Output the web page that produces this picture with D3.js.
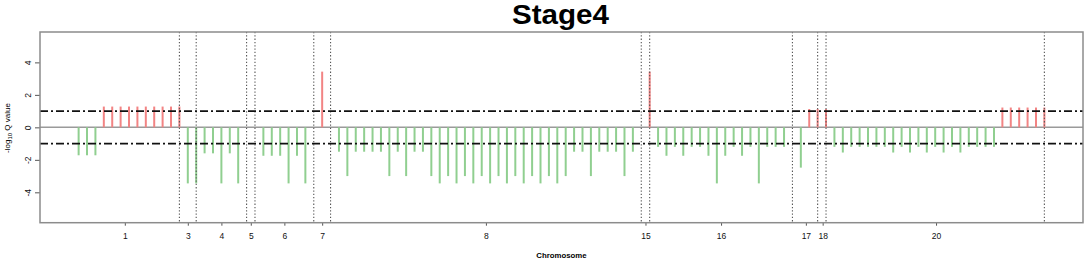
<!DOCTYPE html>
<html>
<head>
<meta charset="utf-8">
<script src="https://cdn.jsdelivr.net/npm/d3@7"></script>
<style>
  body { margin: 0; background: #fff; }
  svg { display: block; font-family: "Liberation Sans", Arial, sans-serif; }
</style>
</head>
<body>
<svg></svg>
<script>
// Canvas size
const width = 1084, height = 260;
const svg = d3.select("svg").attr("width", width).attr("height", height);

// -log10 Q value per marker, in genome order (positive = red, negative = green)
const qValues = [
    -1.72, -1.72, -1.72,
    1.28, 1.28, 1.28, 1.28, 1.28, 1.28, 1.28, 1.28, 1.28, 1.28,
    -3.45, -3.45, -1.6, -1.6, -3.45, -1.6, -3.45, 0, 0,
    -1.75, -1.75, -1.75, -3.45, -1.75, -3.45, 0, 3.43, 0,
    -1.5, -3.0, -1.5, -1.5, -1.5, -1.5, -3.0, -1.5, -3.0, -1.5, -1.5,
    -3.0, -3.45, -3.0, -3.45, -3.0, -3.45, -3.0, -3.45, -3.0, -3.45, -3.0,
    -3.45, -3.0, -3.45, -3.0, -3.45, -3.0,
    -1.5, -1.5, -3.0, -1.5, -1.5, -1.5, -3.0, -1.5, 0, 3.43,
    -1.2, -1.75, -1.2, -1.75, -1.2, -1.2, -1.75, -3.45, -1.75, -1.2, -1.75, -1.2, -3.45,
    -1.2, -1.2, -1.2, 0, -2.48, 1.13, 1.13, 1.13,
    -1.2, -1.55, -1.2, -1.2, -1.2, -1.2, -1.2, -1.55, -1.2, -1.55, -1.2, -1.55,
    -1.2, -1.55, -1.2, -1.55, -1.2, -1.2, -1.2, -1.2,
    1.22, 1.22, 1.22, 1.22, 1.22, 1.22
];

// Chromosome labels and their positions (marker index units)
const chromLabels = ["1", "3", "4", "5", "6", "7", "8", "15", "16", "17", "18", "20"];
const chromPos = [5.5, 13, 17, 20.5, 24.5, 29, 48.5, 67.5, 76.5, 86.6, 88.6, 102.1];

// Marker indices with vertical dotted guide lines
const guideIdx = [12, 14, 20, 21, 28, 30, 67, 68, 85, 88, 89, 115];

// Significance threshold and y ticks
const threshold = 1;
const yTicks = [-4, -2, 0, 2, 4];

// Plot region
const plotLeft = 40, plotRight = 1083, plotTop = 32, plotBottom = 222.7;

const x = d3.scaleLinear().domain([-4.6, qValues.length - 1 + 4.6]).range([plotLeft, plotRight]);
const y = d3.scaleLinear().domain([-5.87, 5.87]).range([plotBottom, plotTop]);

// Title
svg.append("text")
    .attr("x", 560.5).attr("y", 24)
    .attr("text-anchor", "middle")
    .attr("font-size", 28).attr("font-weight", "bold")
    .attr("textLength", 97).attr("lengthAdjust", "spacingAndGlyphs")
    .text("Stage4");

// Zero line
svg.append("line")
    .attr("x1", plotLeft).attr("x2", plotRight)
    .attr("y1", y(0)).attr("y2", y(0))
    .attr("stroke", "#9a9a9a").attr("stroke-width", 1.5);

// Bars (type = "h")
svg.selectAll("line.bar")
    .data(qValues)
    .enter().append("line")
    .attr("class", "bar")
    .attr("x1", (d, i) => x(i)).attr("x2", (d, i) => x(i))
    .attr("y1", y(0)).attr("y2", d => y(d))
    .attr("stroke", d => d > 0 ? "#f28484" : "#90cf90")
    .attr("stroke-width", 2);

// Dotted guide lines
svg.selectAll("line.guide")
    .data(guideIdx)
    .enter().append("line")
    .attr("class", "guide")
    .attr("x1", d => x(d)).attr("x2", d => x(d))
    .attr("y1", plotTop).attr("y2", plotBottom)
    .attr("stroke", "#555").attr("stroke-width", 1.1)
    .attr("stroke-dasharray", "1.3,2");

// Threshold lines (dot-dash)
svg.selectAll("line.thr")
    .data([threshold, -threshold])
    .enter().append("line")
    .attr("class", "thr")
    .attr("x1", plotLeft).attr("x2", plotRight)
    .attr("y1", d => y(d)).attr("y2", d => y(d))
    .attr("stroke", "#111").attr("stroke-width", 1.6)
    .attr("stroke-dasharray", "8,3,2,3");

// Y axis
const yAxis = svg.append("g")
    .attr("transform", `translate(${plotLeft},0)`)
    .call(d3.axisLeft(y).tickValues(yTicks).tickSize(5).tickFormat(d => String(d)));
yAxis.select(".domain").remove();
yAxis.selectAll("line").attr("stroke", "#555");
yAxis.selectAll("text")
    .attr("x", null).attr("dy", null)
    .attr("text-anchor", "middle")
    .attr("transform", "translate(-9.5,0) rotate(-90)")
    .attr("font-size", 8.5).attr("fill", "#111");

// X axis
const xAxis = svg.append("g")
    .attr("transform", `translate(0,${plotBottom})`)
    .call(d3.axisBottom(x).tickValues(chromPos).tickSize(3).tickFormat((d, i) => chromLabels[i]));
xAxis.select(".domain").remove();
xAxis.selectAll("line").attr("stroke", "#555");
xAxis.selectAll("text")
    .attr("y", 10.5)
    .attr("font-size", 8.5).attr("fill", "#111");

// Plot box
svg.append("rect")
    .attr("x", plotLeft).attr("y", plotTop)
    .attr("width", plotRight - plotLeft).attr("height", plotBottom - plotTop)
    .attr("fill", "none").attr("stroke", "#8c8c8c").attr("stroke-width", 1.5);

// Axis titles
svg.append("text")
    .attr("x", 561.5).attr("y", 258)
    .attr("text-anchor", "middle")
    .attr("font-size", 7.8).attr("font-weight", "bold")
    .text("Chromosome");

const yTitle = svg.append("text")
    .attr("transform", "translate(10,128) rotate(-90)")
    .attr("text-anchor", "middle")
    .attr("font-size", 8);
yTitle.append("tspan").text("-log");
yTitle.append("tspan").attr("font-size", 6).attr("dy", 2).text("10");
yTitle.append("tspan").attr("dy", -2).text(" Q value");
</script>
</body>
</html>
